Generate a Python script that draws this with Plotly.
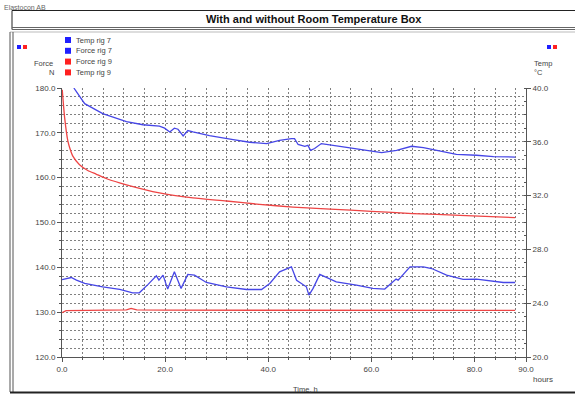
import plotly.graph_objects as go

# ---- data -------------------------------------------------------------
# Force rig 7 (N, left axis)
force7_t = [2.3, 4.4, 7.9, 12.5, 15.7, 18.9, 19.9, 20.9, 21.8, 22.5, 23.5, 24.4, 25.4,
            28.6, 33.2, 36.4, 39.7, 42.2, 44.5, 45.1, 45.8, 47.1, 47.7, 48.2, 49.0,
            50.3, 53.9, 58.4, 62.0, 64.9, 67.8, 70.1, 73.3, 76.5, 80.4, 83.7, 87.9]
force7_n = [180.0, 176.5, 174.3, 172.5, 171.8, 171.5, 171.05, 170.2, 171.05, 170.8, 169.3,
            170.5, 170.2, 169.4, 168.5, 167.9, 167.6, 168.3, 168.7, 168.7, 167.4, 167.0,
            167.2, 166.1, 166.5, 167.6, 167.0, 166.2, 165.6, 166.1, 167.0, 166.7, 165.9,
            165.2, 165.0, 164.7, 164.6]

# Force rig 9 (N, left axis)
force9_t = [0.05, 0.5, 1.13, 1.46, 2.1, 3.4, 5.0, 6.6, 8.8, 12.5, 18.9, 25.4,
            31.9, 38.3, 44.8, 52.0, 60.0, 68.0, 77.2, 87.9]
force9_n = [179.6, 173.5, 168.2, 166.8, 164.8, 162.9, 161.6, 160.8, 159.7, 158.4,
            156.6, 155.5, 154.8, 154.05, 153.45, 153.0, 152.5, 152.0, 151.6, 151.1]

# Temp rig 7 (degC, right axis)
temp7_t = [0.0, 1.8, 2.8, 4.4, 7.9, 11.2, 13.7, 15.0, 16.7, 18.3, 18.8, 19.6, 20.5, 21.8,
           23.1, 24.4, 25.7, 28.0, 31.9, 35.8, 38.7, 40.3, 42.2, 44.5, 45.5, 46.8, 47.4,
           47.9, 48.7, 50.0, 53.2, 57.1, 60.3, 62.6, 63.9, 64.8, 65.2, 67.5, 70.1, 71.7,
           74.6, 77.8, 80.4, 83.0, 85.6, 87.9]
temp7_c = [25.75, 25.91, 25.71, 25.47, 25.22, 25.02, 24.77, 24.77, 25.40, 26.03, 25.71,
           26.09, 25.05, 26.33, 25.10, 26.14, 26.09, 25.54, 25.22, 25.02, 25.02, 25.47,
           26.33, 26.70, 25.71, 25.34, 25.22, 24.60, 25.10, 26.14, 25.59, 25.34, 25.10,
           25.05, 25.47, 25.79, 25.71, 26.70, 26.70, 26.58, 26.09, 25.77, 25.79, 25.64,
           25.54, 25.54]

# Temp rig 9 (degC, right axis)
temp9_t = [0.0, 0.8, 5.0, 10.0, 12.5, 13.4, 14.5, 20.0, 30.0, 40.0, 50.0, 60.0, 70.0, 80.0, 87.9]
temp9_c = [23.30, 23.45, 23.47, 23.48, 23.50, 23.62, 23.50, 23.48, 23.47, 23.47, 23.48,
           23.48, 23.47, 23.47, 23.47]

x_ticks = [0, 20, 40, 60, 80, 90]
force_ticks = [120, 130, 140, 150, 160, 170, 180]
temp_ticks = [20, 24, 28, 32, 36, 40]

legend_rows = [("Temp rig 7", "#1f1fff"), ("Force rig 7", "#1f1fff"),
               ("Force rig 9", "#ff2020"), ("Temp rig 9", "#ff2020")]

BLUE = "#4646e6"
RED = "#ee4444"
FONT = "Liberation Sans"

# ---- page geometry (pixels) -------------------------------------------
W, H = 575, 394
L, R, T, B = 62, 49, 88, 37
PW, PH = W - L - R, H - T - B


def px(x):
    return (x - L) / PW


def py(y):
    return (H - B - y) / PH


fig = go.Figure()
fig.add_trace(go.Scatter(x=force7_t, y=force7_n, mode="lines", name="Force rig 7",
                         line=dict(color=BLUE, width=1.3), showlegend=False))
fig.add_trace(go.Scatter(x=force9_t, y=force9_n, mode="lines", name="Force rig 9",
                         line=dict(color=RED, width=1.3, shape="spline", smoothing=0.6),
                         showlegend=False))
fig.add_trace(go.Scatter(x=temp7_t, y=temp7_c, mode="lines", name="Temp rig 7",
                         line=dict(color=BLUE, width=1.3), yaxis="y2", showlegend=False))
fig.add_trace(go.Scatter(x=temp9_t, y=temp9_c, mode="lines", name="Temp rig 9",
                         line=dict(color=RED, width=1.3), yaxis="y2", showlegend=False))

grid = dict(gridcolor="#808080", griddash="2px,2px", gridwidth=1)
tickfont = dict(family=FONT, size=8, color="#444")

fig.update_layout(
    width=W, height=H,
    margin=dict(l=L, r=R, t=T, b=B),
    paper_bgcolor="white", plot_bgcolor="white",
    showlegend=False,
    font=dict(family=FONT, size=8, color="#333"),
    xaxis=dict(range=[0, 90], tickmode="array", tickvals=x_ticks,
               ticktext=[f"{v:.1f}" for v in x_ticks], tickfont=tickfont,
               showline=True, linecolor="#555", linewidth=1, ticks="outside",
               ticklen=4, tickcolor="#555", showgrid=True, **grid, zeroline=False,
               minor=dict(dtick=4, tick0=0, showgrid=True, gridcolor="#808080",
                          griddash="2px,2px", ticks="outside", ticklen=2,
                          tickcolor="#555")),
    yaxis=dict(range=[120, 180], tickmode="array", tickvals=force_ticks,
               ticktext=[f"{v:.1f}" for v in force_ticks], tickfont=tickfont,
               showline=True, linecolor="#555", linewidth=1, ticks="outside",
               ticklen=4, tickcolor="#555", showgrid=True, **grid, zeroline=False,
               minor=dict(dtick=2, tick0=120, showgrid=True, gridcolor="#808080",
                          griddash="2px,2px", ticks="outside", ticklen=2,
                          tickcolor="#555")),
    yaxis2=dict(range=[20, 40], overlaying="y", side="right", tickmode="array",
                tickvals=temp_ticks, ticktext=[f"{v:.1f}" for v in temp_ticks],
                tickfont=tickfont, showline=True, linecolor="#555", linewidth=1,
                ticks="outside", ticklen=4, tickcolor="#555", showgrid=False,
                zeroline=False,
                minor=dict(dtick=1, tick0=20, ticks="inside", ticklen=2,
                           tickcolor="#555", showgrid=False)),
)

# ---- frame ------------------------------------------------------------
frame = [
    (12, 10.5, W, 10.5, "#222", 1),      # top rule
    (12, 10.5, 12, 29.5, "#222", 1),     # title box left edge
    (12, 27.5, W, 27.5, "#666", 1),      # double rule under title
    (12, 29.5, W, 29.5, "#666", 1),
    (10, 32, W, 32, "#bbb", 1),          # body top
    (10, 32, 10, 392, "#555", 1),        # body left, double
    (13, 32, 13, 392, "#555", 1),
    (10, 392.5, W, 392.5, "#222", 2),    # body bottom
]
for x0, y0, x1, y1, c, w in frame:
    fig.add_shape(type="line", xref="paper", yref="paper",
                  x0=px(x0), y0=py(y0), x1=px(x1), y1=py(y1),
                  line=dict(color=c, width=w))


def swatch(x, y, color, size=6):
    fig.add_shape(type="rect", xref="paper", yref="paper",
                  x0=px(x), x1=px(x + size), y0=py(y - size / 2), y1=py(y + size / 2),
                  fillcolor=color, line=dict(width=0))


def label(x, y, text, size=8, color="#333", anchor="center"):
    fig.add_annotation(xref="paper", yref="paper", x=px(x), y=py(y), text=text,
                       showarrow=False, xanchor=anchor, yanchor="middle",
                       font=dict(family=FONT, size=size, color=color))


label(2, 7, "Elastocon AB", size=7, color="#666", anchor="left")
label(314, 19, "<b>With and without Room Temperature Box</b>", size=11, color="#111")

for i, (name, col) in enumerate(legend_rows):
    yy = 40 + i * 10.8
    swatch(65, yy, col, 6)
    label(74, yy, name, size=7.5, color="#444", anchor="left")

# axis captions and series markers
for xs in (17, 547):
    swatch(xs, 47, "#1f1fff", 4)
    swatch(xs + 6, 47, "#ff2020", 4)
label(43, 63, "Force", size=7.5, color="#444")
label(51, 73, "N", size=7.5, color="#444")
label(543, 63, "Temp", size=7.5, color="#444")
label(538, 73, "°C", size=7.5, color="#444")
label(543, 379, "hours", size=8, color="#444")
label(305, 389, "Time, h", size=7.5, color="#444")

fig.write_html("out.html")
